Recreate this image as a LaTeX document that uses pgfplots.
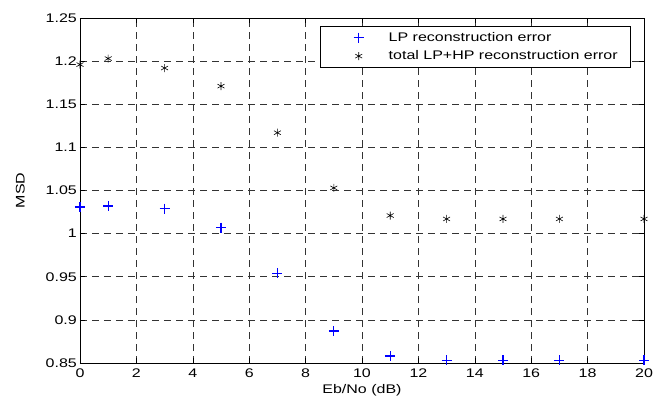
\documentclass[border=0pt]{standalone}
\usepackage{pgfplots}
\pgfplotsset{compat=1.18}
\usepackage{fontspec}
\setmainfont{Liberation Sans}
\newfontfamily\wide[FakeStretch=1.28]{Liberation Sans}
\definecolor{mblue}{RGB}{0,0,255}
\pgfplotsset{mylegend/.style={legend image code/.code={\path[draw=none,fill=none] (0bp,-1bp) rectangle (55bp,1bp); \draw[##1] plot coordinates {(27bp,0bp)};}}}
\begin{document}
\begin{tikzpicture}
\useasboundingbox (-80bp,-33bp) rectangle (582bp,363bp);
\begin{axis}[
  at={(0,0)}, anchor=south west,
  scale only axis, width=564bp, height=345bp,
  xmin=0, xmax=20, ymin=0.85, ymax=1.25,
  xtick={0,2,...,20},
  xticklabels={0,2,4,6,8,10,12,14,16,18,20},
  ytick={0.85,0.9,0.95,1,1.05,1.1,1.15,1.2,1.25},
  yticklabels={0.85,0.9,0.95,1,1.05,1.1,1.15,1.2,1.25},
  tick label style={font=\wide\fontsize{12.5bp}{14bp}\selectfont},
  xticklabel style={anchor=center, yshift=-10bp},
  yticklabel style={anchor=east, inner xsep=3bp},
  label style={font=\wide\fontsize{12.5bp}{14bp}\selectfont},
  xlabel={Eb/No (dB)},
  ylabel={MSD},
  xlabel style={at={(axis description cs:0.5,0)}, anchor=center, yshift=-27bp},
  ylabel style={at={(axis description cs:-0.106,0.5)}, anchor=center},
  grid=major,
  major grid style={black!80, line width=0.6bp, dash pattern=on 7bp off 5bp},
  major tick length=5bp,
  tick style={black, line width=0.6bp},
  axis line style={black, line width=0.8bp},
  legend style={at={(rel axis cs:1,1)}, anchor=north east, xshift=-13bp, yshift=-8bp,
    draw=black, line width=0.6bp, font=\wide\fontsize{12.5bp}{14bp}\selectfont,
    inner xsep=11bp, inner ysep=4bp, row sep=4bp},
  legend cell align=left,
]
\addplot[only marks, mark=+, mark size=5bp, mblue, line width=1.3bp, mylegend]
coordinates {(0,1.031) (1,1.032) (3,1.029) (5,1.007) (7,0.954) (9,0.887) (11,0.858) (13,0.853) (15,0.853) (17,0.853) (20,0.853)};
\addlegendentry{LP reconstruction error}
\addplot[only marks, mark=asterisk, mark size=4bp, black, line width=0.6bp, mylegend]
coordinates {(0,1.196) (1,1.203) (3,1.192) (5,1.171) (7,1.117) (9,1.053) (11,1.021) (13,1.017) (15,1.017) (17,1.017) (20,1.017)};
\addlegendentry{total LP+HP reconstruction error}
\end{axis}
\end{tikzpicture}
\end{document}
